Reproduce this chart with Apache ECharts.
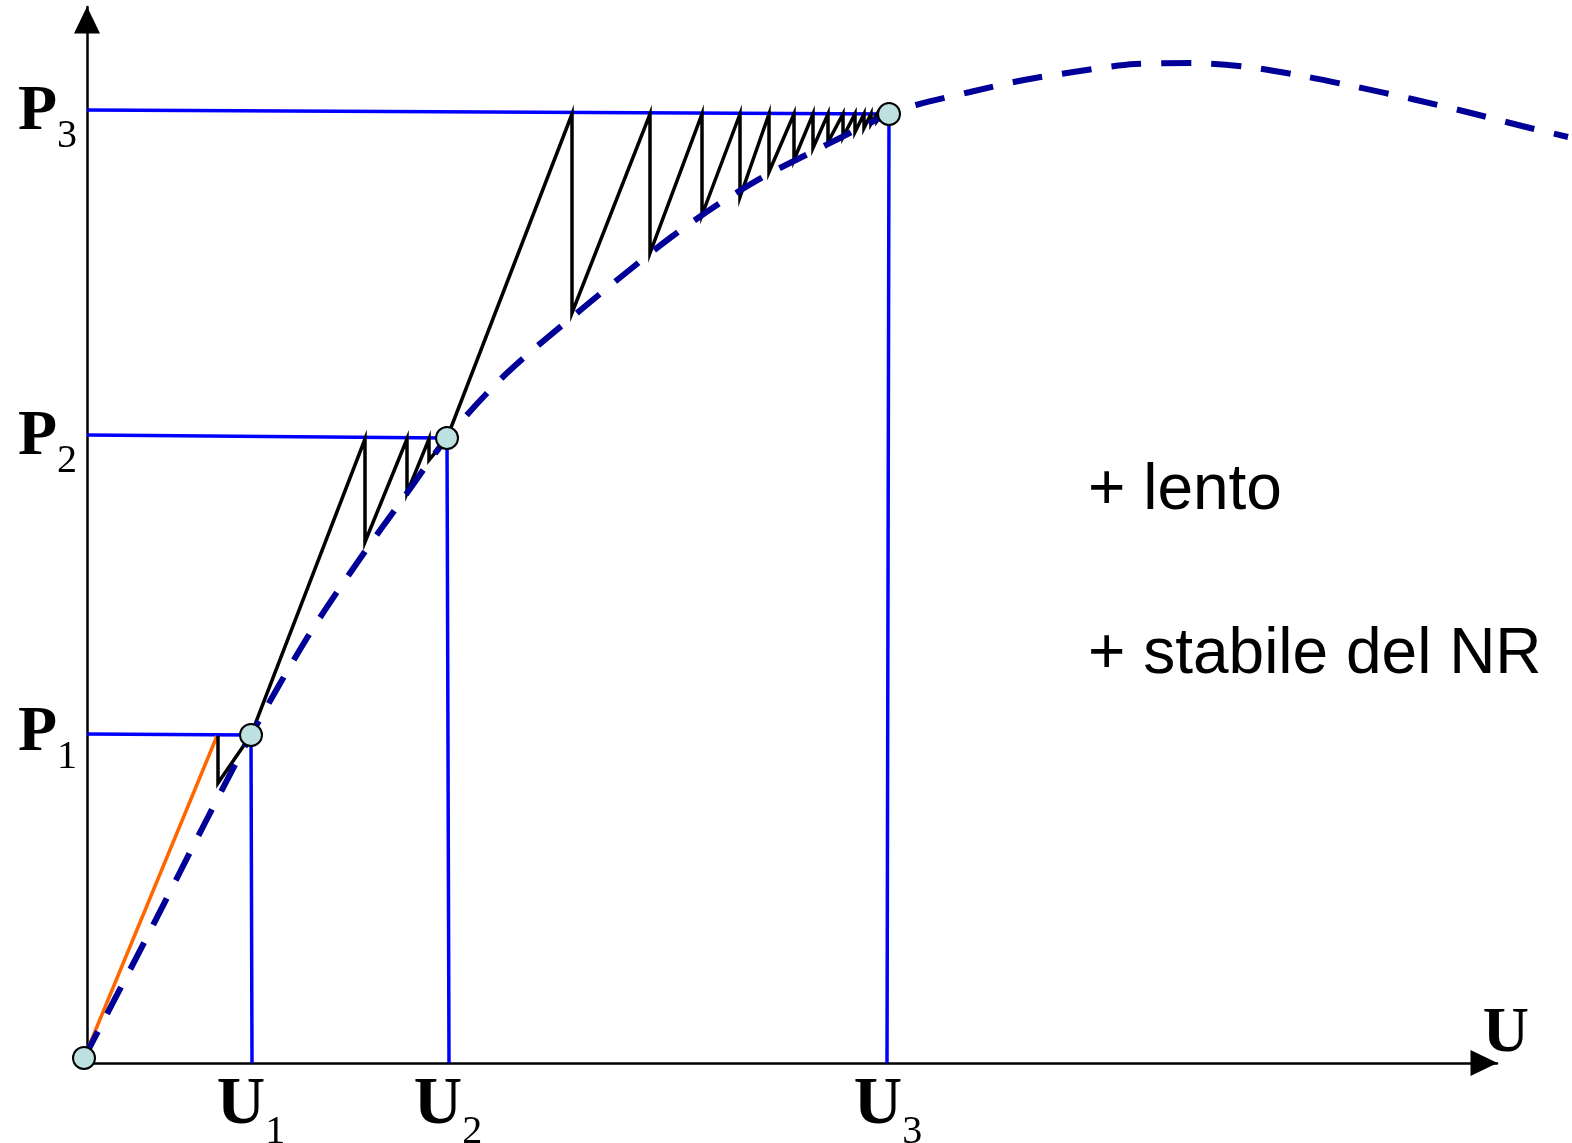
<!DOCTYPE html>
<html>
<head>
<meta charset="utf-8">
<title>Newton-Raphson modificato</title>
<script src="https://cdn.jsdelivr.net/npm/echarts@6/dist/echarts.min.js"></script>
<style>
  html, body { margin: 0; padding: 0; background: #fff; }
  #chart { width: 1572px; height: 1143px; }
</style>
</head>
<body>
<div id="chart"></div>
<script>
  // curva di equilibrio (tratteggiata)
  const curveU = [-3, 60, 120, 164, 220, 270, 320, 360, 420, 496, 540, 583, 630, 676, 725, 777, 802, 829, 883, 937, 993, 1048, 1105, 1161, 1216, 1270, 1325, 1380, 1435, 1481]
  const curveP = [5, 126, 244, 328, 425, 500, 570, 625, 690, 755, 791, 825, 858, 886, 911, 937, 949, 958, 971, 983, 992, 999, 1000, 996, 987, 976, 964, 951, 937, 926]

  // rigidezza iniziale (arancione)
  const tangentU = [-3, 130]
  const tangentP = [5, 327]

  // iterazioni (nero)
  const stepU = [131, 131, 164, 278, 278, 320, 320, 342, 342, 360, 485, 485, 563, 563, 615, 615, 653, 653, 682, 682, 707, 707, 726, 726, 741, 741, 756, 756, 768, 768, 777, 777, 784, 784, 790, 790, 795]
  const stepP = [327, 280, 328, 624, 521, 624, 570, 624, 603, 625, 949, 750, 949, 810, 949, 848, 949, 866, 949, 891, 949, 903, 949, 915, 949, 921, 949, 926, 949, 931, 949, 935, 949, 939, 949, 942, 949]

  // punti di equilibrio
  const eqU = [-3, 164, 360, 802]
  const eqP = [5, 328, 625, 949]

  // linee blu: inizio sull'asse P, piede sull'asse U
  const levelStartP = [329, 628, 953]
  const footU = [165, 362, 800]

  // etichette degli assi
  const pTicks = [330, 626, 951]
  const pSubs = ['1', '2', '3']
  const uTicks = [164, 361, 801]
  const uSubs = ['1', '2', '3']

  const notes = ['+ lento', '+ stabile del NR']

  const chart = echarts.init(document.getElementById('chart'))

  const serif = 'Liberation Serif'
  const sans = 'Liberation Sans'

  const toPairs = (xs, ys) => xs.map((x, i) => [x, ys[i]])

  let series = []

  levelStartP.forEach((p0, i) => {
    series.push({
      type: 'line',
      data: [[0, p0], [eqU[i + 1], eqP[i + 1]], [footU[i], 0]],
      symbol: 'none',
      lineStyle: {color: '#0000ff', width: 3.5},
      z: 1
    })
  })

  series.push({
    type: 'line',
    data: toPairs(tangentU, tangentP),
    symbol: 'none',
    clip: false,
    lineStyle: {color: '#ff6600', width: 3.5},
    z: 2
  })

  series.push({
    type: 'line',
    data: toPairs(stepU, stepP),
    symbol: 'none',
    lineStyle: {color: '#000', width: 3.5, join: 'miter'},
    z: 3
  })

  // la curva va oltre la freccia dell'asse U: griglia piu' larga, stessa scala
  series.push({
    type: 'line',
    xAxisIndex: 1,
    yAxisIndex: 1,
    data: toPairs(curveU, curveP),
    symbol: 'none',
    smooth: 0.3,
    clip: false,
    lineStyle: {color: '#000099', width: 6, type: [30, 20], cap: 'butt'},
    z: 4
  })

  series.push({
    type: 'scatter',
    data: toPairs(eqU, eqP),
    symbol: 'circle',
    symbolSize: 22,
    clip: false,
    itemStyle: {color: '#bde0e0', borderColor: '#000', borderWidth: 2, opacity: 1},
    z: 5
  })

  const axisLine = {
    show: true,
    onZero: false,
    symbol: ['none', 'triangle'],
    symbolSize: [26, 27],
    symbolOffset: [0, -13],
    lineStyle: {color: '#000', width: 2.5}
  }

  const hidden = {show: false}

  const option = {
    animation: false,
    backgroundColor: '#fff',
    grid: [
      {left: 87, right: 75, top: 7, bottom: 80, outerBoundsMode: 'none', containLabel: false},
      {left: 87, right: 4, top: 7, bottom: 80, outerBoundsMode: 'none', containLabel: false}
    ],
    xAxis: [{
      type: 'value',
      gridIndex: 0,
      min: 0,
      max: 1410,
      name: 'U',
      nameLocation: 'end',
      nameGap: 32,
      nameTextStyle: {
        fontFamily: serif, fontWeight: 'bold', fontSize: 64, lineHeight: 58, color: '#000',
        align: 'right', verticalAlign: 'bottom'
      },
      axisLine: axisLine,
      axisTick: hidden,
      splitLine: hidden,
      axisLabel: {
        show: true,
        customValues: uTicks,
        margin: 10,
        formatter: (v) => '{b|U}{s|' + uSubs[uTicks.indexOf(v)] + '}',
        rich: {
          b: {fontFamily: serif, fontWeight: 'bold', fontSize: 67, lineHeight: 66, color: '#000'},
          s: {fontFamily: serif, fontSize: 40, lineHeight: 10, verticalAlign: 'top', padding: [39, 0, 0, 0], color: '#000'}
        }
      }
    }, {
      type: 'value',
      gridIndex: 1,
      min: 0,
      max: 1481,
      show: false
    }],
    yAxis: [{
      type: 'value',
      gridIndex: 0,
      min: 0,
      max: 1056,
      axisLine: axisLine,
      axisTick: hidden,
      splitLine: hidden,
      axisLabel: {
        show: true,
        customValues: pTicks,
        margin: 10,
        formatter: (v) => '{b|P}{s|' + pSubs[pTicks.indexOf(v)] + '}',
        rich: {
          b: {fontFamily: serif, fontWeight: 'bold', fontSize: 64, lineHeight: 62, color: '#000'},
          s: {fontFamily: serif, fontSize: 40, lineHeight: 10, verticalAlign: 'top', padding: [35, 0, 0, 0], color: '#000'}
        }
      }
    }, {
      type: 'value',
      gridIndex: 1,
      min: 0,
      max: 1056,
      show: false
    }],
    graphic: [
      {type: 'text', x: 1088, y: 491, style: {text: notes[0], fontSize: 64, fontFamily: sans, fill: '#000', align: 'left', verticalAlign: 'middle'}},
      {type: 'text', x: 1088, y: 655, style: {text: notes[1], fontSize: 64, fontFamily: sans, fill: '#000', align: 'left', verticalAlign: 'middle'}}
    ],
    series: series
  }

  chart.setOption(option)
</script>
</body>
</html>
